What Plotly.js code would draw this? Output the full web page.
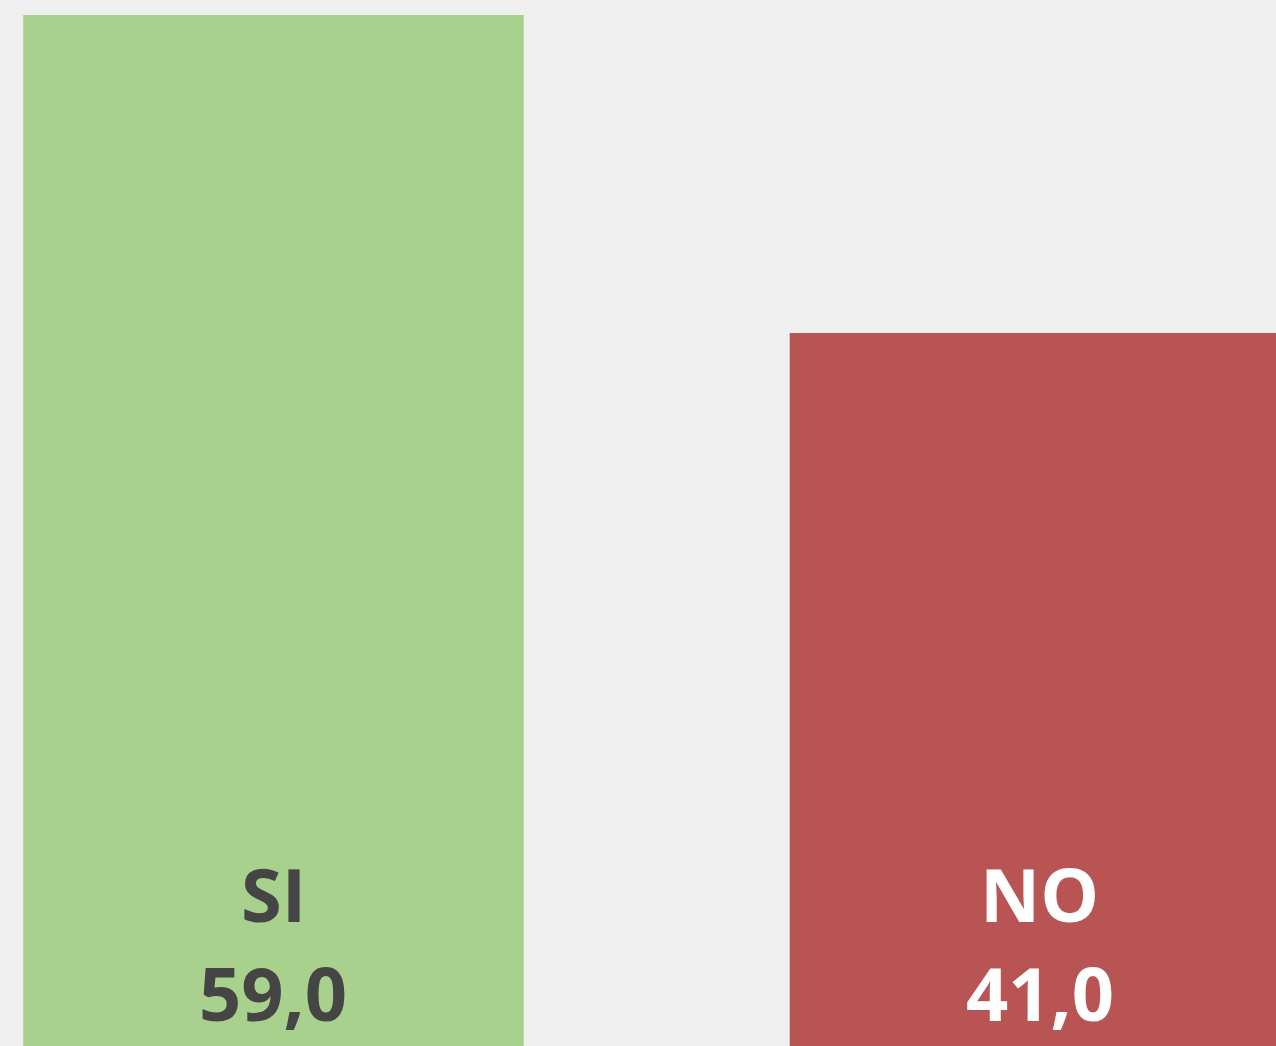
<!DOCTYPE html>
<html>
<head>
<meta charset="utf-8">
<script src="https://cdn.plot.ly/plotly-3.0.1.min.js"></script>
<style>html,body{margin:0;padding:0;background:#efefef;}#chart{width:1276px;height:1046px;}</style>
</head>
<body>
<div id="chart"></div>
<script>
const categories = ["SI", "NO"];
const values = [59.0, 41.0];
const valueLabels = ["59,0", "41,0"];
const barColors = ["#a9d18e", "#b85454"];
const textColors = ["#454545", "#ffffff"];

const trace = {
  type: "bar",
  x: categories,
  y: values,
  marker: {color: barColors, line: {width: 0}},
  width: 0.653,
  hoverinfo: "none"
};

const annotations = [];
categories.forEach((c, i) => {
  annotations.push({
    x: c, xref: "x", y: 0.146, yref: "paper", yanchor: "middle",
    text: "<b>" + c + "</b>", showarrow: false,
    font: {family: "Open Sans, sans-serif", size: 74, color: textColors[i]}
  });
  annotations.push({
    x: c, xref: "x", y: 0.051, yref: "paper", yanchor: "middle",
    text: "<b>" + valueLabels[i] + "</b>", showarrow: false,
    font: {family: "Open Sans, sans-serif", size: 74, color: textColors[i]}
  });
});

const layout = {
  width: 1276, height: 1046,
  margin: {l: 0, r: 0, t: 0, b: 0, pad: 0},
  paper_bgcolor: "#efefef",
  plot_bgcolor: "#efefef",
  showlegend: false,
  xaxis: {range: [-0.3568, 1.3079], showgrid: false, zeroline: false, showticklabels: false, ticks: "", showline: false, fixedrange: true},
  yaxis: {range: [0.641, 59.849], showgrid: false, zeroline: false, showticklabels: false, ticks: "", showline: false, fixedrange: true},
  annotations: annotations
};

Plotly.newPlot("chart", [trace], layout, {displayModeBar: false, staticPlot: true});
</script>
</body>
</html>
